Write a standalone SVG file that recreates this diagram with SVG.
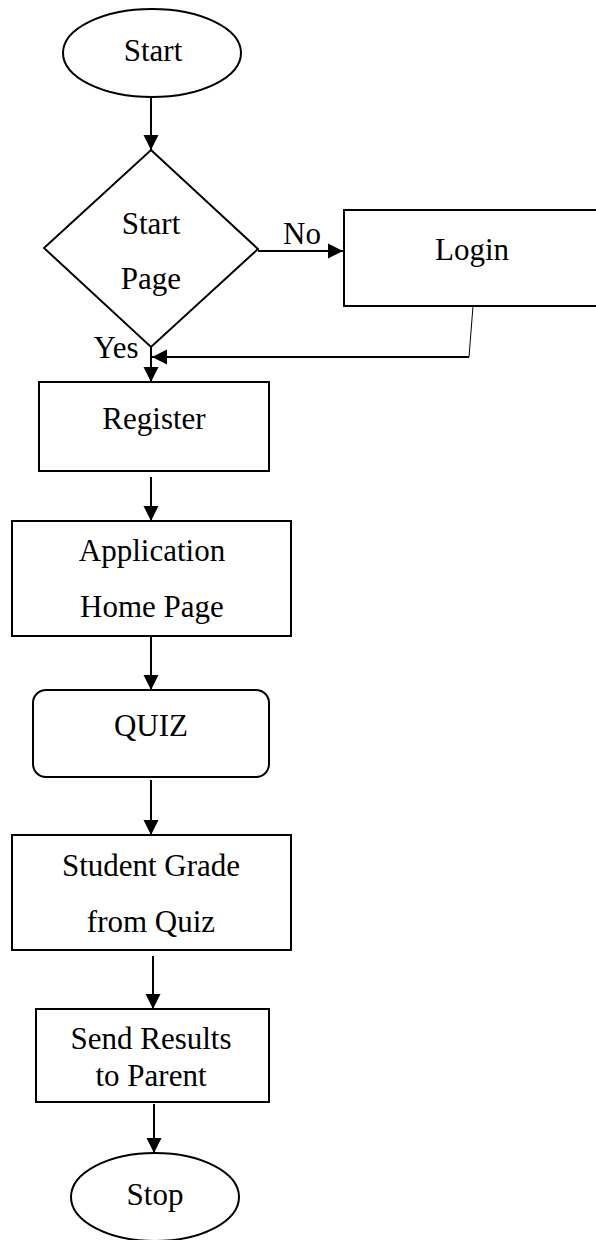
<svg xmlns="http://www.w3.org/2000/svg" width="596" height="1240" viewBox="0 0 596 1240">
  <style>
    .shape { fill: #ffffff; stroke: #000000; stroke-width: 2; }
    .lbl { font-family: "Liberation Serif", "Times New Roman", serif; font-size: 31px; fill: #000000; text-anchor: middle; }
    .edge { stroke: #000000; stroke-width: 2; fill: none; }
    .thin { stroke: #000000; stroke-width: 1; fill: none; }
  </style>
  <defs>
    <marker id="arrow" markerUnits="userSpaceOnUse" markerWidth="16" markerHeight="16" viewBox="0 0 16 16" refX="15" refY="8" orient="auto">
      <path d="M0,0.5 L15,8 L0,15.5 Z" fill="#000000"/>
    </marker>
  </defs>
  <rect width="596" height="1240" fill="#ffffff"/>

  <g id="connectors">
    <line class="edge" x1="151" y1="97" x2="151" y2="150" marker-end="url(#arrow)"/>
    <line class="edge" x1="258" y1="251" x2="343" y2="251" marker-end="url(#arrow)"/>
    <line class="thin" x1="473" y1="306" x2="469" y2="357"/>
    <line class="edge" x1="469" y1="357" x2="152" y2="357" marker-end="url(#arrow)"/>
    <line class="edge" x1="151" y1="347" x2="151" y2="382" marker-end="url(#arrow)"/>
    <line class="edge" x1="151" y1="477" x2="151" y2="521" marker-end="url(#arrow)"/>
    <line class="edge" x1="151" y1="636" x2="151" y2="690" marker-end="url(#arrow)"/>
    <line class="edge" x1="151" y1="780" x2="151" y2="835" marker-end="url(#arrow)"/>
    <line class="edge" x1="153" y1="956" x2="153" y2="1009" marker-end="url(#arrow)"/>
    <line class="edge" x1="154" y1="1104" x2="154" y2="1153" marker-end="url(#arrow)"/>
    <text class="lbl" x="302" y="244">No</text>
    <text class="lbl" x="116" y="358">Yes</text>
  </g>

  <g id="start">
    <ellipse class="shape" cx="152" cy="53" rx="89" ry="44"/>
    <text class="lbl" x="153" y="61">Start</text>
  </g>

  <g id="startpage">
    <polygon class="shape" points="151,150 258,249 151,347 44,248"/>
    <text class="lbl" x="151" y="234">Start</text>
    <text class="lbl" x="151" y="289">Page</text>
  </g>

  <g id="login">
    <rect class="shape" x="344" y="210" width="260" height="96"/>
    <text class="lbl" x="472" y="260">Login</text>
  </g>

  <g id="register">
    <rect class="shape" x="39" y="382" width="230" height="89"/>
    <text class="lbl" x="154" y="429">Register</text>
  </g>

  <g id="home">
    <rect class="shape" x="12" y="521" width="279" height="115"/>
    <text class="lbl" x="152" y="561">Application</text>
    <text class="lbl" x="152" y="617">Home Page</text>
  </g>

  <g id="quiz">
    <rect class="shape" x="33" y="690" width="236" height="87" rx="13" ry="13"/>
    <text class="lbl" x="151" y="736">QUIZ</text>
  </g>

  <g id="grade">
    <rect class="shape" x="12" y="835" width="279" height="115"/>
    <text class="lbl" x="151" y="876">Student Grade</text>
    <text class="lbl" x="151" y="932">from Quiz</text>
  </g>

  <g id="send">
    <rect class="shape" x="36" y="1009" width="233" height="93"/>
    <text class="lbl" x="151" y="1049">Send Results</text>
    <text class="lbl" x="151" y="1086">to Parent</text>
  </g>

  <g id="stop">
    <ellipse class="shape" cx="155" cy="1197" rx="84" ry="44"/>
    <text class="lbl" x="155" y="1205">Stop</text>
  </g>
</svg>
